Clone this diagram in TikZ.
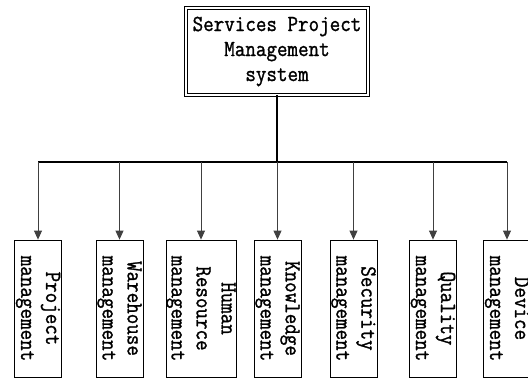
\documentclass[tikz,border=0pt]{standalone}
\usepackage{fontspec}
\newfontfamily\boxfont[FakeStretch = 0.89, FakeBold = 1.2]{Latin Modern Mono}
\usetikzlibrary{arrows.meta}

\begin{document}
\begin{tikzpicture}[x = 1pt, y = -1pt,
    system/.style = {draw = black, double, double distance = 2.4pt, line width = 0.8pt, minimum width = 182pt, minimum height = 87pt, inner sep = 0pt, align = center, font = \boxfont\fontsize{23}{25}\selectfont},
    module/.style = {draw = black, line width = 0.8pt, rotate = -90, minimum width = 137pt, minimum height = 47pt, inner sep = 0pt, align = center, font = \boxfont\fontsize{23}{25}\selectfont},
    bus/.style = {line width = 1.3pt},
    branch/.style = {-{Triangle[length = 9pt, width = 8pt]}, line width = 0.8pt, draw = black!75}]

    \useasboundingbox (0, 0) rectangle (528, 380);

% Nodes
    \node[system] (S) at (277, 51.5) {Services Project\\Management\\system};
    \node[module] (P) at (38, 308.5) {Project\\management};
    \node[module] (W) at (119.5, 308.5) {Warehouse\\management};
    \node[module, minimum height = 70pt] (H) at (201, 308.5) {Human\\Resource\\management};
    \node[module] (K) at (277.5, 308.5) {Knowledge\\management};
    \node[module] (Sec) at (353.5, 308.5) {Security\\management};
    \node[module] (Q) at (433, 308.5) {Quality\\management};
    \node[module] (D) at (507, 308.5) {Device\\management};

% Trunk and bus
    \coordinate (T) at (277, 162);
    \draw [bus] (S.south) -- (T);
    \draw [bus] (P.west |- T) -- (D.west |- T);

% Directions
    \draw [branch] (P.west |- T) -- (P.west);
    \draw [branch] (W.west |- T) -- (W.west);
    \draw [branch] (H.west |- T) -- (H.west);
    \draw [branch] (K.west |- T) -- (K.west);
    \draw [branch] (Sec.west |- T) -- (Sec.west);
    \draw [branch] (Q.west |- T) -- (Q.west);
    \draw [branch] (D.west |- T) -- (D.west);

\end{tikzpicture}
\end{document}
